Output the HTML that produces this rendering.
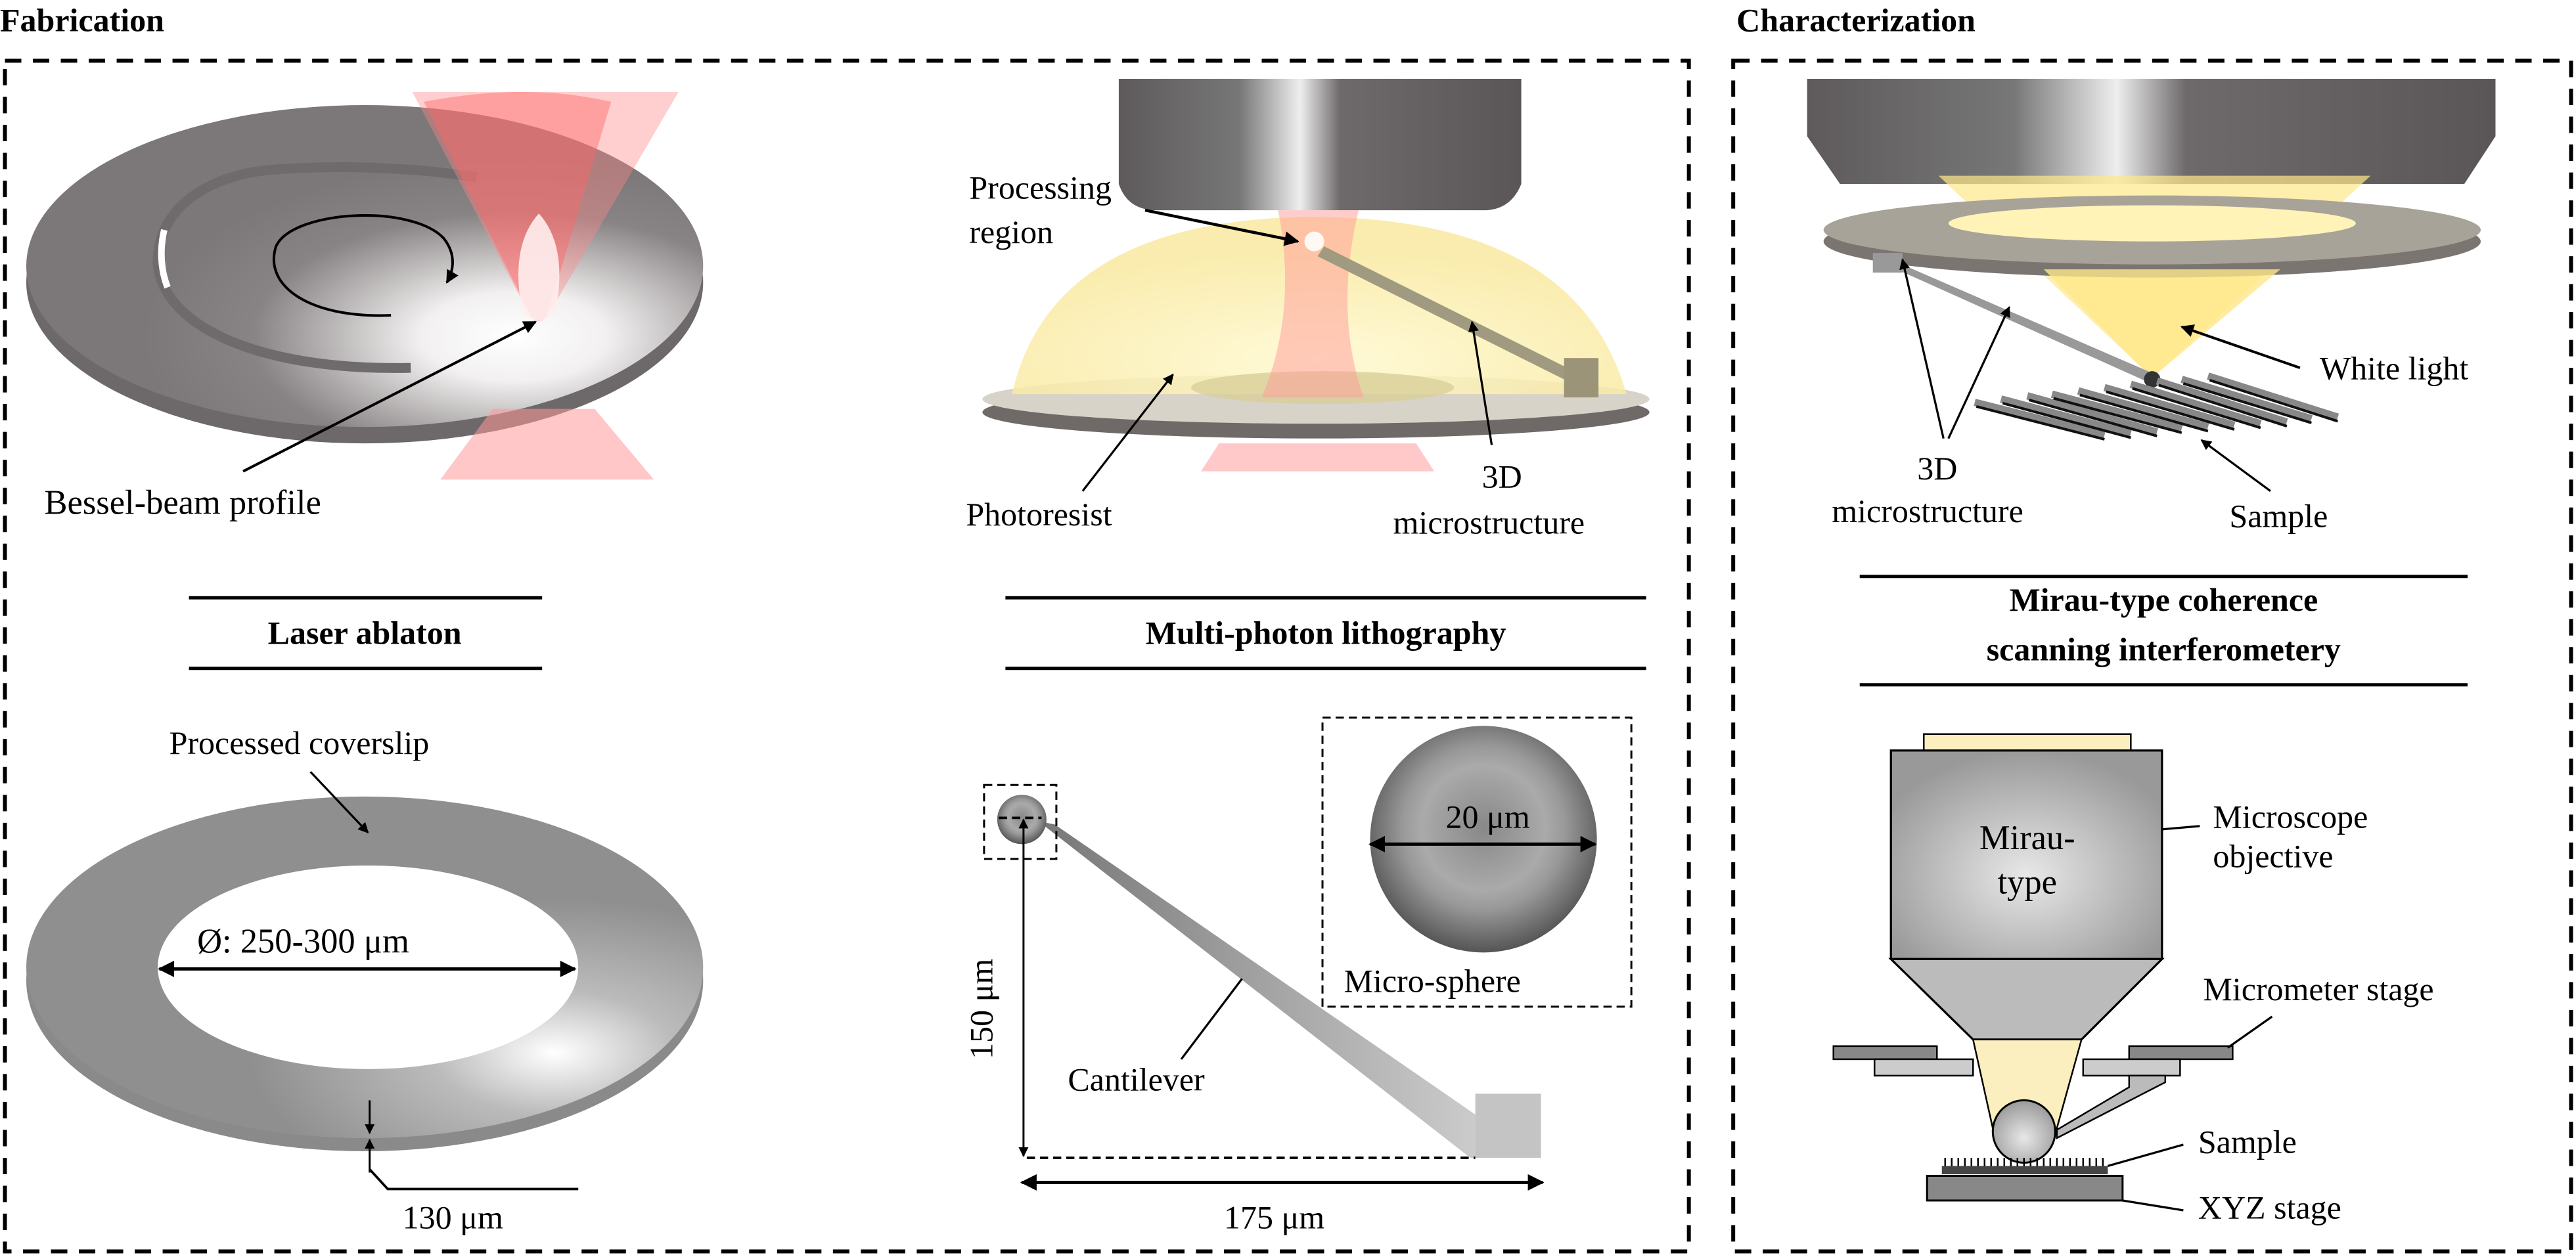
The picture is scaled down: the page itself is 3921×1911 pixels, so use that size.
<!DOCTYPE html>
<html><head><meta charset="utf-8"><style>html,body{margin:0;padding:0;background:#fff}svg{display:block}svg text{font-family:"Liberation Serif","Times New Roman",Times,"Noto Serif CJK SC","DejaVu Serif",serif;fill:#000}</style></head><body>
<svg width="3921" height="1911" viewBox="0 0 1568 764.2" xmlns="http://www.w3.org/2000/svg" font-family="'Liberation Serif', 'Times New Roman', Times, 'Noto Serif CJK SC', 'DejaVu Serif', serif">
<defs>
<marker id="ar" viewBox="0 0 10 10" refX="9" refY="5" markerWidth="5" markerHeight="5" orient="auto-start-reverse"><path d="M0,0L10,5L0,10z" fill="#000"/></marker>
<linearGradient id="metal" x1="0" x2="1"><stop offset="0" stop-color="#5e5a5b"/><stop offset="0.3" stop-color="#777"/><stop offset="0.45" stop-color="#eee"/><stop offset="0.55" stop-color="#6e6a6b"/><stop offset="1" stop-color="#5a5657"/></linearGradient>
<radialGradient id="disk" cx="0.72" cy="0.72" r="0.55"><stop offset="0" stop-color="#fff"/><stop offset="0.25" stop-color="#f2f0f0"/><stop offset="0.7" stop-color="#888384"/><stop offset="1" stop-color="#7c7778"/></radialGradient>
<radialGradient id="ring2" cx="0.78" cy="0.75" r="0.45"><stop offset="0" stop-color="#fff"/><stop offset="0.4" stop-color="#bbb"/><stop offset="1" stop-color="#8f8f8f"/></radialGradient>
<radialGradient id="sph" cx="0.5" cy="0.45" r="0.55"><stop offset="0" stop-color="#888"/><stop offset="0.5" stop-color="#aaa"/><stop offset="0.65" stop-color="#999"/><stop offset="1" stop-color="#555"/></radialGradient>
<radialGradient id="mir" cx="0.5" cy="0.6" r="0.6"><stop offset="0" stop-color="#e8e8e8"/><stop offset="1" stop-color="#999"/></radialGradient>
<linearGradient id="cant" x1="0" x2="1"><stop offset="0" stop-color="#777"/><stop offset="1" stop-color="#ccc"/></linearGradient>
<radialGradient id="dome" cx="0.5" cy="0.8" r="0.6"><stop offset="0" stop-color="#fff9d0"/><stop offset="1" stop-color="#f9e9a0"/></radialGradient>
</defs>
<rect width="1568" height="765" fill="#fff"/>
<text x="0" y="19" font-size="20" font-weight="bold">Fabrication</text>
<text x="1057" y="19" font-size="20" font-weight="bold">Characterization</text>
<rect x="3" y="37" width="1025" height="725" fill="none" stroke="#000" stroke-width="2.4" stroke-dasharray="10,7"/>
<rect x="1055" y="37" width="510" height="725" fill="none" stroke="#000" stroke-width="2.4" stroke-dasharray="10,7"/>

<!-- Panel 1 laser ablation -->
<ellipse cx="222" cy="172" rx="206" ry="98" fill="#6d6869"/>
<ellipse cx="222" cy="162" rx="206" ry="98" fill="url(#disk)"/>
<path d="M250,224 C160,226 100,200 96,161 C95,125 130,105 170,103 C215,100 260,103 290,108" fill="none" stroke="#6f6a6b" stroke-width="6"/>
<path d="M100,140 C97,152 98,165 102,175" fill="none" stroke="#fff" stroke-width="4"/>
<path d="M238,192 C190,194 160,175 168,150 C178,128 250,124 270,145 C278,155 276,165 272,172" fill="none" stroke="#000" stroke-width="1.6" marker-end="url(#ar)"/>
<path d="M251,56 L413,56 L333,193 Q328,198 323,193 Z" fill="#f88" opacity="0.4"/>
<path d="M258,62 Q320,50 372,62 L333,192 Q328,198 323,192 Z" fill="#f66" opacity="0.45"/>
<path d="M318,190 Q310,150 328,130 Q346,150 338,190 Q328,200 318,190Z" fill="#fee" opacity="0.9"/>
<path d="M268,292 L398,292 L362,249 L300,249 Z" fill="#f99" opacity="0.55"/>
<line x1="148" y1="287" x2="326" y2="196" stroke="#000" stroke-width="1.6" marker-end="url(#ar)"/>
<text x="27" y="313" font-size="21">Bessel-beam profile</text>
<line x1="115" y1="364" x2="330" y2="364" stroke="#000" stroke-width="2"/>
<line x1="115" y1="407" x2="330" y2="407" stroke="#000" stroke-width="2"/>
<text x="222" y="392" font-size="20" font-weight="bold" text-anchor="middle">Laser ablaton</text>

<!-- Panel 2 coverslip -->
<ellipse cx="222" cy="597" rx="206" ry="104" fill="#8a8a8a"/>
<ellipse cx="222" cy="589" rx="206" ry="104" fill="url(#ring2)"/>
<ellipse cx="224" cy="589" rx="128" ry="62" fill="#fff"/>
<line x1="189" y1="470" x2="224" y2="507" stroke="#000" stroke-width="1.3" marker-end="url(#ar)"/>
<text x="103" y="459" font-size="20">Processed coverslip</text>
<text x="120" y="580" font-size="21">Ø: 250-300 μm</text>
<line x1="97" y1="590" x2="350" y2="590" stroke="#000" stroke-width="2" marker-start="url(#ar)" marker-end="url(#ar)"/>
<line x1="225" y1="670" x2="225" y2="690" stroke="#000" stroke-width="1.2" marker-end="url(#ar)"/>
<line x1="225" y1="714" x2="225" y2="694" stroke="#000" stroke-width="1.2" marker-end="url(#ar)"/>
<polyline points="225,712 236,724 352,724" fill="none" stroke="#000" stroke-width="1.5"/>
<text x="245" y="748" font-size="20">130 μm</text>

<!-- Panel 3 multiphoton -->
<path d="M681,48 L926,48 L926,112 Q920,127 905,128 L702,128 Q686,127 681,112 Z" fill="url(#metal)"/>
<ellipse cx="801" cy="251" rx="203" ry="16" fill="#6f6a68"/>
<ellipse cx="801" cy="243" rx="203" ry="15" fill="#d8d3c8"/>
<path d="M616,240 Q640,133 800,132 Q960,133 990,240 Z" fill="url(#dome)" opacity="0.85"/>
<ellipse cx="805" cy="236" rx="80" ry="10" fill="#d8cf9a" opacity="0.8"/>
<path d="M778,128 L827,128 Q812,190 830,242 L768,242 Q790,190 778,128Z" fill="#f99" opacity="0.5"/>
<path d="M731,287 L873,287 L862,270 L742,270Z" fill="#fbb" opacity="0.8"/>
<circle cx="800" cy="147" r="6" fill="#fff" opacity="0.9"/>
<path d="M806,150 L958,226 L958,234 L802,156Z" fill="#a09a80"/>
<rect x="952" y="218" width="21" height="24" fill="#9c9478"/>
<line x1="697" y1="128" x2="790" y2="147" stroke="#000" stroke-width="1.8" marker-end="url(#ar)"/>
<text x="590" y="121" font-size="20">Processing</text>
<text x="590" y="148" font-size="20">region</text>
<line x1="659" y1="299" x2="714" y2="228" stroke="#000" stroke-width="1.3" marker-end="url(#ar)"/>
<text x="588" y="320" font-size="20">Photoresist</text>
<line x1="908" y1="271" x2="896" y2="196" stroke="#000" stroke-width="1.3" marker-end="url(#ar)"/>
<text x="902" y="297" font-size="20">3D</text>
<text x="848" y="325" font-size="20">microstructure</text>
<line x1="612" y1="364" x2="1002" y2="364" stroke="#000" stroke-width="2"/>
<line x1="612" y1="407" x2="1002" y2="407" stroke="#000" stroke-width="2"/>
<text x="807" y="392" font-size="20" font-weight="bold" text-anchor="middle">Multi-photon lithography</text>

<!-- Panel 4 cantilever -->
<path d="M632,500 L642,502 L900,680 L900,705 L895,705 Z" fill="url(#cant)"/>
<rect x="898" y="666" width="40" height="39" fill="#c4c4c4"/>
<circle cx="622" cy="499" r="15" fill="url(#sph)"/>
<rect x="599" y="478" width="44" height="45" fill="none" stroke="#000" stroke-width="1.2" stroke-dasharray="5,3"/>
<line x1="608" y1="498" x2="634" y2="498" stroke="#000" stroke-width="1.5" stroke-dasharray="5,3"/>
<line x1="623" y1="499" x2="623" y2="704" stroke="#000" stroke-width="1.2" marker-start="url(#ar)" marker-end="url(#ar)"/>
<line x1="625" y1="705" x2="898" y2="705" stroke="#000" stroke-width="1.5" stroke-dasharray="5,3"/>
<line x1="622" y1="720" x2="939" y2="720" stroke="#000" stroke-width="2" marker-start="url(#ar)" marker-end="url(#ar)"/>
<text x="745" y="748" font-size="20">175 μm</text>
<text x="0" y="0" font-size="20" transform="translate(604,645) rotate(-90)">150 μm</text>
<line x1="719" y1="645" x2="756" y2="596" stroke="#000" stroke-width="1.3"/>
<text x="650" y="664" font-size="20">Cantilever</text>
<rect x="805" y="437" width="188" height="176" fill="none" stroke="#000" stroke-width="1.2" stroke-dasharray="5,3"/>
<circle cx="903" cy="511" r="69" fill="url(#sph)"/>
<line x1="834" y1="514" x2="971" y2="514" stroke="#000" stroke-width="2" marker-start="url(#ar)" marker-end="url(#ar)"/>
<text x="880" y="504" font-size="20">20 μm</text>
<text x="818" y="604" font-size="20">Micro-sphere</text>

<!-- Panel 5 characterization -->
<path d="M1100,48 L1519,48 L1519,83 L1500,112 L1120,112 L1100,83 Z" fill="url(#metal)"/>
<path d="M1180,107 L1443,107 L1310,230 Z" fill="#ffe88a" opacity="0.7"/>
<ellipse cx="1310" cy="147" rx="200" ry="22" fill="#7a7570"/>
<ellipse cx="1310" cy="140" rx="200" ry="21" fill="#a8a398"/>
<ellipse cx="1310" cy="136" rx="124" ry="11" fill="#fff3b8"/>
<path d="M1244,164 L1388,164 L1310,230 Z" fill="#ffe78a" opacity="0.8"/>
<rect x="1140" y="154" width="18" height="12" fill="#999"/>
<path d="M1150,162 L1160,162 L1312,228 L1306,232 Z" fill="#999"/>
<circle cx="1310" cy="231" r="5" fill="#333"/>
<g stroke-linecap="butt">
<g stroke="#888" stroke-width="4.5">
<line x1="1202" y1="245" x2="1281" y2="265"/><line x1="1218" y1="243" x2="1297" y2="264"/>
<line x1="1234" y1="241" x2="1313" y2="263"/><line x1="1249" y1="240" x2="1328" y2="261"/>
<line x1="1265" y1="238" x2="1344" y2="260"/><line x1="1281" y1="236" x2="1360" y2="259"/>
<line x1="1297" y1="234" x2="1376" y2="258"/><line x1="1313" y1="232" x2="1392" y2="257"/>
<line x1="1328" y1="231" x2="1407" y2="255"/><line x1="1344" y1="229" x2="1423" y2="254"/>
</g>
<g stroke="#111" stroke-width="1.6">
<line x1="1203" y1="247.5" x2="1281" y2="267.5"/><line x1="1219" y1="245.5" x2="1297" y2="266.5"/>
<line x1="1235" y1="243.5" x2="1313" y2="265.5"/><line x1="1250" y1="242.5" x2="1328" y2="263.5"/>
<line x1="1266" y1="240.5" x2="1344" y2="262.5"/><line x1="1282" y1="238.5" x2="1360" y2="261.5"/>
<line x1="1298" y1="236.5" x2="1376" y2="260.5"/><line x1="1314" y1="234.5" x2="1392" y2="259.5"/>
<line x1="1329" y1="233.5" x2="1407" y2="257.5"/><line x1="1345" y1="231.5" x2="1423" y2="256.5"/>
</g>
</g>
<line x1="1400" y1="224" x2="1328" y2="199" stroke="#000" stroke-width="1.6" marker-end="url(#ar)"/>
<text x="1412" y="231" font-size="20">White light</text>
<line x1="1183" y1="267" x2="1158" y2="158" stroke="#000" stroke-width="1.3" marker-end="url(#ar)"/>
<line x1="1186" y1="267" x2="1223" y2="187" stroke="#000" stroke-width="1.3" marker-end="url(#ar)"/>
<text x="1167" y="292" font-size="20">3D</text>
<text x="1115" y="318" font-size="20">microstructure</text>
<line x1="1382" y1="299" x2="1340" y2="268" stroke="#000" stroke-width="1.3" marker-end="url(#ar)"/>
<text x="1357" y="321" font-size="20">Sample</text>
<line x1="1132" y1="351" x2="1502" y2="351" stroke="#000" stroke-width="2"/>
<line x1="1132" y1="417" x2="1502" y2="417" stroke="#000" stroke-width="2"/>
<text x="1317" y="372" font-size="20" font-weight="bold" text-anchor="middle">Mirau-type coherence</text>
<text x="1317" y="402" font-size="20" font-weight="bold" text-anchor="middle">scanning interferometery</text>

<!-- Panel 6 Mirau schematic -->
<rect x="1171" y="447" width="126" height="10" fill="#fbefc0" stroke="#000" stroke-width="1"/>
<rect x="1151" y="457" width="165" height="127" fill="url(#mir)" stroke="#000" stroke-width="1.3"/>
<path d="M1151,584 L1316,584 L1267,633 L1201,633 Z" fill="#bbb" stroke="#000" stroke-width="1.3"/>
<path d="M1201,633 L1267,633 L1252,687 L1213,687 Z" fill="#fbefc0" stroke="#000" stroke-width="1"/>
<rect x="1116" y="637" width="63" height="8" fill="#888" stroke="#000" stroke-width="1"/>
<rect x="1141" y="645" width="60" height="10" fill="#ccc" stroke="#000" stroke-width="1"/>
<rect x="1296" y="637" width="63" height="8" fill="#888" stroke="#000" stroke-width="1"/>
<rect x="1268" y="645" width="59" height="10" fill="#ccc" stroke="#000" stroke-width="1"/>
<path d="M1296,655 L1318,655 L1318,659 L1252,693 L1252,688 L1296,662Z" fill="#bbb" stroke="#000" stroke-width="1"/>
<ellipse cx="1232" cy="689" rx="19" ry="19" fill="url(#mir)" stroke="#000" stroke-width="1.2"/>
<rect x="1182" y="710" width="101" height="5" fill="#444"/>
<path d="M1184,710 v-5 M1188,710 v-5 M1192,710 v-5 M1196,710 v-5 M1200,710 v-5 M1204,710 v-5 M1208,710 v-5 M1212,710 v-5 M1216,710 v-5 M1220,710 v-5 M1224,710 v-5 M1228,710 v-5 M1232,710 v-5 M1236,710 v-5 M1240,710 v-5 M1244,710 v-5 M1248,710 v-5 M1252,710 v-5 M1256,710 v-5 M1260,710 v-5 M1264,710 v-5 M1268,710 v-5 M1272,710 v-5 M1276,710 v-5 M1280,710 v-5" stroke="#000" stroke-width="1"/>
<rect x="1173" y="716" width="119" height="15" fill="#888" stroke="#000" stroke-width="1.2"/>
<text x="1234" y="517" font-size="21" text-anchor="middle">Mirau-</text>
<text x="1234" y="544" font-size="21" text-anchor="middle">type</text>
<line x1="1316" y1="505" x2="1339" y2="503" stroke="#000" stroke-width="1.3"/>
<text x="1347" y="504" font-size="20">Microscope</text>
<text x="1347" y="528" font-size="20">objective</text>
<line x1="1383" y1="619" x2="1356" y2="638" stroke="#000" stroke-width="1.3"/>
<text x="1341" y="609" font-size="20">Micrometer stage</text>
<line x1="1329" y1="697" x2="1283" y2="710" stroke="#000" stroke-width="1.3"/>
<text x="1338" y="702" font-size="20">Sample</text>
<line x1="1329" y1="737" x2="1292" y2="731" stroke="#000" stroke-width="1.3"/>
<text x="1338" y="742" font-size="20">XYZ stage</text>
</svg>
</body></html>
